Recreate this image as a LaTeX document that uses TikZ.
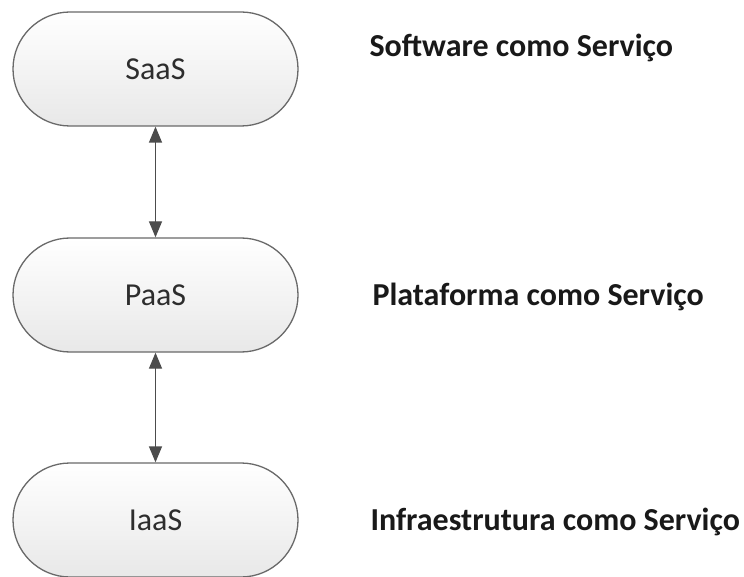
\documentclass[tikz,border=0pt]{standalone}
\usepackage{fontspec}
\setmainfont{Carlito}
\usepackage{xcolor}
\usepackage{tikz}
\usetikzlibrary{arrows.meta}
\definecolor{rimgray}{RGB}{105,105,105}
\definecolor{txtgray}{RGB}{45,45,45}

\begin{document}
\begin{tikzpicture}[line cap=round,line join=round,>={Triangle[length=16pt,width=13pt]},x=1pt,y=-1pt,
  layer/.style={draw=rimgray,line width=1.3pt,top color=white,bottom color=black!9,
    minimum width=285pt,minimum height=114pt,rounded corners=57pt,
    font=\fontsize{32}{38}\selectfont,text=txtgray},
  caption/.style={anchor=west,font=\fontsize{32}{38}\selectfont\bfseries,text=black!90}]
\useasboundingbox (0,0) rectangle (744,577);
\node[layer] (saas) at (155.5,69) {SaaS};
\node[layer] (paas) at (155.5,295) {PaaS};
\node[layer] (iaas) at (155.5,520) {IaaS};
\draw [<->,line width=1.3pt,color=black!70] (saas) -- (paas);
\draw [<->,line width=1.3pt,color=black!70] (paas) -- (iaas);
\node[caption] (saastxt) at (366,48) {Software como Serviço};
\node[caption] (paastxt) at (369,297) {Plataforma como Serviço};
\node[caption] (iaastxt) at (367,522) {Infraestrutura como Serviço};
\end{tikzpicture}
\end{document}
